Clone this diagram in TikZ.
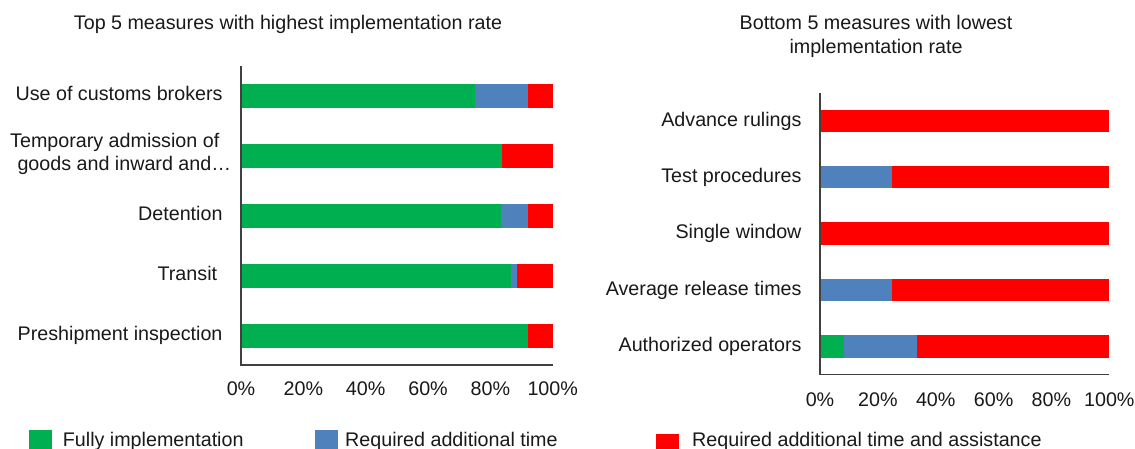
\documentclass[tikz,border=0pt]{standalone}
\usepackage{fontspec}
\setmainfont{Liberation Sans}
\definecolor{fullgreen}{HTML}{00B050}
\definecolor{timeblue}{HTML}{4F81BD}
\definecolor{assistred}{HTML}{FF0000}
\definecolor{axisgray}{HTML}{404040}
\begin{document}
\begin{tikzpicture}[x=1pt,y=-1pt,
  txt/.style={font=\fontsize{19.7}{22}\selectfont, inner sep=0pt, text=black!90},
  catlbl/.style={txt, anchor=base east},
  ticklbl/.style={txt, anchor=base},
  axisline/.style={draw=axisgray, line width=1.3pt},
  swatch/.style={inner sep=0pt, minimum width=23pt, minimum height=23pt, anchor=north west}]
\clip (0,0) rectangle (1135,448);
\fill[white] (0,0) rectangle (1135,448);

% ---- left chart: stacked bars (centre y / end of green / end of blue)
\foreach \yc/\g/\b in {96/475.3/527.7, 156/501.7/501.7, 215.7/501.3/527.7,
                       276/511.3/517.3, 336/527.7/527.7}{
  \fill[fullgreen] (241,{\yc-12}) rectangle (\g,{\yc+12});
  \fill[timeblue]  (\g,{\yc-12}) rectangle (\b,{\yc+12});
  \fill[assistred] (\b,{\yc-12}) rectangle (552.7,{\yc+12});
}
\draw[axisline] (241,66) -- (241,365) -- (552.7,365);

\node[txt, anchor=base] (ltitle) at (288,29.5) {Top 5 measures with highest implementation rate};
\node[catlbl] (lcat1) at (222.7,100.7) {Use of customs brokers};
\node[txt, anchor=base west] (lcat2a) at (10,147.5) {Temporary admission of};
\node[txt, anchor=base west] (lcat2b) at (17.3,170) {goods and inward and…};
\node[catlbl] (lcat3) at (222.7,220.7) {Detention};
\node[catlbl] (lcat4) at (217.3,280.7) {Transit};
\node[catlbl] (lcat5) at (222.7,340.7) {Preshipment inspection};
\foreach \p [count=\i from 0] in {0,20,40,60,80,100}
  \node[ticklbl] (ltick\i) at ({241+62.34*\i},395.7) {\p\%};

% ---- right chart
\foreach \yc/\g/\b in {120.7/820/820, 177/820/892.3, 233.5/820/820,
                       289.9/820/892.3, 346.5/843.7/916.7}{
  \fill[fullgreen] (820,{\yc-11.2}) rectangle (\g,{\yc+11.2});
  \fill[timeblue]  (\g,{\yc-11.2}) rectangle (\b,{\yc+11.2});
  \fill[assistred] (\b,{\yc-11.2}) rectangle (1109.3,{\yc+11.2});
}
\draw[axisline] (820,93) -- (820,374.3) -- (1109.3,374.3);

\node[txt, anchor=base] (rtitle1) at (876,29.5) {Bottom 5 measures with lowest};
\node[txt, anchor=base] (rtitle2) at (876,53.5) {implementation rate};
\node[catlbl] (rcat1) at (801.7,126.7) {Advance rulings};
\node[catlbl] (rcat2) at (801.7,182.7) {Test procedures};
\node[catlbl] (rcat3) at (801.7,238.7) {Single window};
\node[catlbl] (rcat4) at (801.7,295) {Average release times};
\node[catlbl] (rcat5) at (801.7,351.7) {Authorized operators};
\foreach \p [count=\i from 0] in {0,20,40,60,80,100}
  \node[ticklbl] (rtick\i) at ({820+57.86*\i},406) {\p\%};

% ---- legend
\node[swatch, fill=fullgreen] (keyg) at (29,430) {};
\node[txt, anchor=base west] (keygt) at (62.7,446) {Fully implementation};
\node[swatch, fill=timeblue] (keyb) at (315,430) {};
\node[txt, anchor=base west] (keybt) at (345,446) {Required additional time};
\node[swatch, fill=assistred] (keyr) at (656,434) {};
\node[txt, anchor=base west] (keyrt) at (692,446) {Required additional time and assistance};
\end{tikzpicture}
\end{document}
